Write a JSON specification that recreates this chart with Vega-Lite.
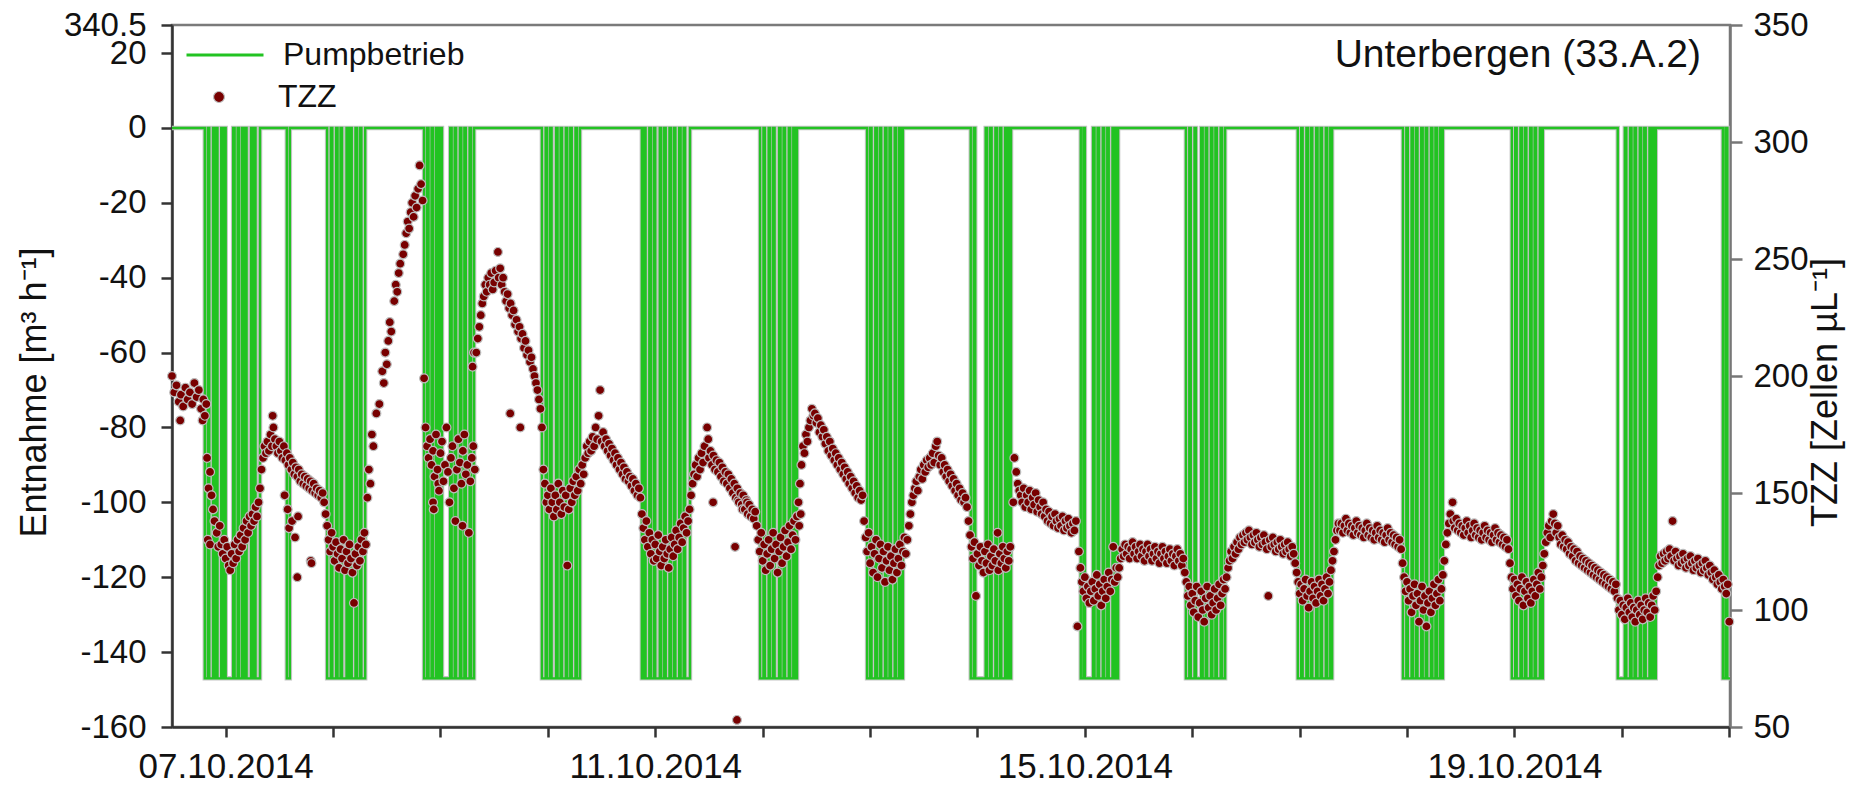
{
"$schema": "https://vega.github.io/schema/vega-lite/v6.json",
"width": 1558, "height": 702,
"autosize": {"type": "none"},
"padding": {"left": 172, "top": 25, "right": 138, "bottom": 60},
"background": "white",
"config": {"font": "Liberation Sans", "view": {"stroke": "#7a7a7a", "strokeWidth": 2.5}, "axis": {"grid": false, "labelColor": "#111", "titleColor": "#111", "labelFontSize": 33, "titleFontSize": 36, "titleFontWeight": "normal"}},
"title": {"text": "Unterbergen (33.A.2)", "orient": "top", "anchor": "end", "frame": "group", "offset": -42, "dx": -29, "dy": 55, "fontSize": 39, "fontWeight": "normal", "color": "#111", "baseline": "alphabetic"},
"datasets": {
"pump": [
{"t":"2014-10-06T12:00","p":0},
{"t":"2014-10-06T19:20","p":-147},{"t":"2014-10-06T20:00","p":0},{"t":"2014-10-06T20:20","p":-147},{"t":"2014-10-06T21:10","p":0},{"t":"2014-10-06T21:30","p":-147},{"t":"2014-10-06T21:50","p":0},{"t":"2014-10-06T22:10","p":-147},{"t":"2014-10-06T23:00","p":0},{"t":"2014-10-06T23:20","p":-147},{"t":"2014-10-06T23:40","p":0},{"t":"2014-10-07T00:00","p":-147},{"t":"2014-10-07T01:40","p":0},{"t":"2014-10-07T02:00","p":-147},{"t":"2014-10-07T02:40","p":0},{"t":"2014-10-07T03:00","p":-147},{"t":"2014-10-07T03:40","p":0},{"t":"2014-10-07T04:00","p":-147},{"t":"2014-10-07T04:20","p":0},{"t":"2014-10-07T04:40","p":-147},{"t":"2014-10-07T05:40","p":0},{"t":"2014-10-07T06:00","p":-147},{"t":"2014-10-07T06:20","p":0},{"t":"2014-10-07T06:40","p":-147},{"t":"2014-10-07T07:40","p":0},
{"t":"2014-10-07T13:40","p":-147},{"t":"2014-10-07T14:20","p":0},
{"t":"2014-10-07T22:40","p":-147},{"t":"2014-10-07T23:30","p":0},{"t":"2014-10-07T23:50","p":-147},{"t":"2014-10-08T00:40","p":0},{"t":"2014-10-08T01:00","p":-147},{"t":"2014-10-08T01:40","p":0},{"t":"2014-10-08T02:00","p":-147},{"t":"2014-10-08T03:00","p":0},{"t":"2014-10-08T03:20","p":-147},{"t":"2014-10-08T03:50","p":0},{"t":"2014-10-08T04:10","p":-147},{"t":"2014-10-08T05:00","p":0},{"t":"2014-10-08T05:20","p":-147},{"t":"2014-10-08T06:00","p":0},{"t":"2014-10-08T06:20","p":-147},{"t":"2014-10-08T07:10","p":0},
{"t":"2014-10-08T20:20","p":-147},{"t":"2014-10-08T21:00","p":0},{"t":"2014-10-08T21:20","p":-147},{"t":"2014-10-08T22:00","p":0},{"t":"2014-10-08T22:20","p":-147},{"t":"2014-10-08T23:00","p":0},{"t":"2014-10-08T23:20","p":-147},{"t":"2014-10-08T23:50","p":0},{"t":"2014-10-09T00:20","p":-147},{"t":"2014-10-09T02:10","p":0},{"t":"2014-10-09T02:30","p":-147},{"t":"2014-10-09T03:10","p":0},{"t":"2014-10-09T03:30","p":-147},{"t":"2014-10-09T04:20","p":0},{"t":"2014-10-09T04:40","p":-147},{"t":"2014-10-09T05:20","p":0},{"t":"2014-10-09T05:40","p":-147},{"t":"2014-10-09T06:30","p":0},{"t":"2014-10-09T06:50","p":-147},{"t":"2014-10-09T07:30","p":0},
{"t":"2014-10-09T22:40","p":-147},{"t":"2014-10-09T23:30","p":0},{"t":"2014-10-09T23:50","p":-147},{"t":"2014-10-10T00:30","p":0},{"t":"2014-10-10T00:50","p":-147},{"t":"2014-10-10T01:50","p":0},{"t":"2014-10-10T02:10","p":-147},{"t":"2014-10-10T02:50","p":0},{"t":"2014-10-10T03:10","p":-147},{"t":"2014-10-10T04:00","p":0},{"t":"2014-10-10T04:20","p":-147},{"t":"2014-10-10T05:00","p":0},{"t":"2014-10-10T05:20","p":-147},{"t":"2014-10-10T06:10","p":0},{"t":"2014-10-10T06:30","p":-147},{"t":"2014-10-10T07:10","p":0},
{"t":"2014-10-10T21:00","p":-147},{"t":"2014-10-10T21:30","p":0},{"t":"2014-10-10T21:50","p":-147},{"t":"2014-10-10T22:40","p":0},{"t":"2014-10-10T23:00","p":-147},{"t":"2014-10-10T23:40","p":0},{"t":"2014-10-11T00:00","p":-147},{"t":"2014-10-11T01:00","p":0},{"t":"2014-10-11T01:20","p":-147},{"t":"2014-10-11T02:00","p":0},{"t":"2014-10-11T02:20","p":-147},{"t":"2014-10-11T03:10","p":0},{"t":"2014-10-11T03:30","p":-147},{"t":"2014-10-11T04:10","p":0},{"t":"2014-10-11T04:30","p":-147},{"t":"2014-10-11T05:20","p":0},{"t":"2014-10-11T05:40","p":-147},{"t":"2014-10-11T06:20","p":0},{"t":"2014-10-11T06:40","p":-147},{"t":"2014-10-11T07:45","p":0},
{"t":"2014-10-11T23:25","p":-147},{"t":"2014-10-12T00:10","p":0},{"t":"2014-10-12T00:30","p":-147},{"t":"2014-10-12T01:20","p":0},{"t":"2014-10-12T01:40","p":-147},{"t":"2014-10-12T02:20","p":0},{"t":"2014-10-12T02:40","p":-147},{"t":"2014-10-12T03:40","p":0},{"t":"2014-10-12T04:00","p":-147},{"t":"2014-10-12T04:40","p":0},{"t":"2014-10-12T05:00","p":-147},{"t":"2014-10-12T05:50","p":0},{"t":"2014-10-12T06:10","p":-147},{"t":"2014-10-12T06:50","p":0},{"t":"2014-10-12T07:10","p":-147},{"t":"2014-10-12T07:40","p":0},
{"t":"2014-10-12T23:20","p":-147},{"t":"2014-10-13T00:00","p":0},{"t":"2014-10-13T00:20","p":-147},{"t":"2014-10-13T01:10","p":0},{"t":"2014-10-13T01:30","p":-147},{"t":"2014-10-13T02:10","p":0},{"t":"2014-10-13T02:30","p":-147},{"t":"2014-10-13T03:20","p":0},{"t":"2014-10-13T03:40","p":-147},{"t":"2014-10-13T04:20","p":0},{"t":"2014-10-13T04:40","p":-147},{"t":"2014-10-13T05:30","p":0},{"t":"2014-10-13T05:50","p":-147},{"t":"2014-10-13T06:30","p":0},{"t":"2014-10-13T06:50","p":-147},{"t":"2014-10-13T07:20","p":0},
{"t":"2014-10-13T22:30","p":-147},{"t":"2014-10-13T23:10","p":0},{"t":"2014-10-13T23:30","p":-147},{"t":"2014-10-14T01:50","p":0},{"t":"2014-10-14T02:10","p":-147},{"t":"2014-10-14T02:50","p":0},{"t":"2014-10-14T03:10","p":-147},{"t":"2014-10-14T04:00","p":0},{"t":"2014-10-14T04:20","p":-147},{"t":"2014-10-14T05:00","p":0},{"t":"2014-10-14T05:20","p":-147},{"t":"2014-10-14T06:10","p":0},{"t":"2014-10-14T06:30","p":-147},{"t":"2014-10-14T07:00","p":0},{"t":"2014-10-14T07:10","p":-147},{"t":"2014-10-14T07:30","p":0},
{"t":"2014-10-14T23:05","p":-147},{"t":"2014-10-14T23:40","p":0},{"t":"2014-10-15T00:00","p":-147},{"t":"2014-10-15T01:50","p":0},{"t":"2014-10-15T02:10","p":-147},{"t":"2014-10-15T02:50","p":0},{"t":"2014-10-15T03:10","p":-147},{"t":"2014-10-15T04:00","p":0},{"t":"2014-10-15T04:20","p":-147},{"t":"2014-10-15T05:00","p":0},{"t":"2014-10-15T05:20","p":-147},{"t":"2014-10-15T06:10","p":0},{"t":"2014-10-15T06:30","p":-147},{"t":"2014-10-15T07:00","p":0},{"t":"2014-10-15T07:10","p":-147},{"t":"2014-10-15T07:25","p":0},
{"t":"2014-10-15T22:35","p":-147},{"t":"2014-10-15T23:20","p":0},{"t":"2014-10-15T23:40","p":-147},{"t":"2014-10-16T00:30","p":0},{"t":"2014-10-16T00:50","p":-147},{"t":"2014-10-16T02:00","p":0},{"t":"2014-10-16T02:20","p":-147},{"t":"2014-10-16T03:00","p":0},{"t":"2014-10-16T03:20","p":-147},{"t":"2014-10-16T04:10","p":0},{"t":"2014-10-16T04:30","p":-147},{"t":"2014-10-16T05:10","p":0},{"t":"2014-10-16T05:30","p":-147},{"t":"2014-10-16T06:20","p":0},{"t":"2014-10-16T06:40","p":-147},{"t":"2014-10-16T07:20","p":0},
{"t":"2014-10-16T23:35","p":-147},{"t":"2014-10-17T00:20","p":0},{"t":"2014-10-17T00:40","p":-147},{"t":"2014-10-17T01:30","p":0},{"t":"2014-10-17T01:50","p":-147},{"t":"2014-10-17T02:30","p":0},{"t":"2014-10-17T02:50","p":-147},{"t":"2014-10-17T03:40","p":0},{"t":"2014-10-17T04:00","p":-147},{"t":"2014-10-17T04:40","p":0},{"t":"2014-10-17T05:00","p":-147},{"t":"2014-10-17T05:50","p":0},{"t":"2014-10-17T06:10","p":-147},{"t":"2014-10-17T06:50","p":0},{"t":"2014-10-17T07:00","p":-147},{"t":"2014-10-17T07:15","p":0},
{"t":"2014-10-17T23:05","p":-147},{"t":"2014-10-17T23:50","p":0},{"t":"2014-10-18T00:10","p":-147},{"t":"2014-10-18T01:00","p":0},{"t":"2014-10-18T01:20","p":-147},{"t":"2014-10-18T02:00","p":0},{"t":"2014-10-18T02:20","p":-147},{"t":"2014-10-18T03:10","p":0},{"t":"2014-10-18T03:30","p":-147},{"t":"2014-10-18T04:10","p":0},{"t":"2014-10-18T04:30","p":-147},{"t":"2014-10-18T05:20","p":0},{"t":"2014-10-18T05:40","p":-147},{"t":"2014-10-18T06:20","p":0},{"t":"2014-10-18T06:40","p":-147},{"t":"2014-10-18T07:20","p":0},{"t":"2014-10-18T07:40","p":-147},{"t":"2014-10-18T08:00","p":0},
{"t":"2014-10-18T23:25","p":-147},{"t":"2014-10-19T00:10","p":0},{"t":"2014-10-19T00:30","p":-147},{"t":"2014-10-19T01:20","p":0},{"t":"2014-10-19T01:40","p":-147},{"t":"2014-10-19T02:20","p":0},{"t":"2014-10-19T02:40","p":-147},{"t":"2014-10-19T03:30","p":0},{"t":"2014-10-19T03:50","p":-147},{"t":"2014-10-19T04:30","p":0},{"t":"2014-10-19T04:50","p":-147},{"t":"2014-10-19T05:40","p":0},{"t":"2014-10-19T06:00","p":-147},{"t":"2014-10-19T06:20","p":0},
{"t":"2014-10-19T23:05","p":-147},{"t":"2014-10-20T00:40","p":0},{"t":"2014-10-20T01:00","p":-147},{"t":"2014-10-20T01:50","p":0},{"t":"2014-10-20T02:10","p":-147},{"t":"2014-10-20T02:50","p":0},{"t":"2014-10-20T03:10","p":-147},{"t":"2014-10-20T04:00","p":0},{"t":"2014-10-20T04:20","p":-147},{"t":"2014-10-20T05:00","p":0},{"t":"2014-10-20T05:20","p":-147},{"t":"2014-10-20T06:10","p":0},{"t":"2014-10-20T06:30","p":-147},{"t":"2014-10-20T07:00","p":0},{"t":"2014-10-20T07:15","p":-147},{"t":"2014-10-20T07:35","p":0},
{"t":"2014-10-20T22:35","p":-147},{"t":"2014-10-20T23:10","p":0},{"t":"2014-10-20T23:35","p":-147},{"t":"2014-10-21T00:10","p":-147}
],
"tzz": [
{"t":"2014-10-06T12:00","z":200},{"t":"2014-10-06T12:30","z":193},{"t":"2014-10-06T13:00","z":196},{"t":"2014-10-06T13:30","z":189},{"t":"2014-10-06T13:50","z":181},{"t":"2014-10-06T14:00","z":192},{"t":"2014-10-06T14:30","z":187},{"t":"2014-10-06T15:00","z":195},{"t":"2014-10-06T15:30","z":190},{"t":"2014-10-06T16:00","z":193},{"t":"2014-10-06T16:30","z":188},{"t":"2014-10-06T17:00","z":197},{"t":"2014-10-06T17:30","z":191},{"t":"2014-10-06T18:00","z":194},{"t":"2014-10-06T18:30","z":186},{"t":"2014-10-06T18:50","z":181},{"t":"2014-10-06T19:00","z":190},{"t":"2014-10-06T19:20","z":183},{"t":"2014-10-06T19:40","z":188},{"t":"2014-10-06T19:50","z":165},{"t":"2014-10-06T20:00","z":130},{"t":"2014-10-06T20:10","z":152},{"t":"2014-10-06T20:30","z":159},{"t":"2014-10-06T20:30","z":128},{"t":"2014-10-06T20:50","z":149},{"t":"2014-10-06T21:10","z":143},{"t":"2014-10-06T21:30","z":138},{"t":"2014-10-06T22:00","z":133},{"t":"2014-10-06T22:20","z":127},{"t":"2014-10-06T22:40","z":136},{"t":"2014-10-06T23:00","z":128},{"t":"2014-10-06T23:20","z":124},{"t":"2014-10-06T23:40","z":130},
{"t":"2014-10-07T00:00","z":122},{"t":"2014-10-07T00:20","z":127},{"t":"2014-10-07T00:40","z":119},{"t":"2014-10-07T01:00","z":117},{"t":"2014-10-07T01:20","z":124},{"t":"2014-10-07T01:40","z":120},{"t":"2014-10-07T02:00","z":128},{"t":"2014-10-07T02:20","z":122},{"t":"2014-10-07T02:40","z":130},{"t":"2014-10-07T03:00","z":125},{"t":"2014-10-07T03:20","z":132},{"t":"2014-10-07T03:40","z":127},{"t":"2014-10-07T04:00","z":135},{"t":"2014-10-07T04:20","z":130},{"t":"2014-10-07T04:40","z":138},{"t":"2014-10-07T05:00","z":133},{"t":"2014-10-07T05:20","z":140},{"t":"2014-10-07T05:40","z":136},{"t":"2014-10-07T06:00","z":141},{"t":"2014-10-07T06:20","z":138},{"t":"2014-10-07T06:40","z":144},{"t":"2014-10-07T07:00","z":140},{"t":"2014-10-07T07:20","z":146},{"t":"2014-10-07T07:40","z":152},{"t":"2014-10-07T08:00","z":160},{"t":"2014-10-07T08:20","z":165},{"t":"2014-10-07T08:40","z":170},{"t":"2014-10-07T09:00","z":167},{"t":"2014-10-07T09:20","z":172},{"t":"2014-10-07T09:40","z":168},{"t":"2014-10-07T10:00","z":175},{"t":"2014-10-07T10:20","z":170},{"t":"2014-10-07T10:30","z":183},{"t":"2014-10-07T10:40","z":178},{"t":"2014-10-07T11:00","z":173},{"t":"2014-10-07T11:20","z":170},{"t":"2014-10-07T11:40","z":167},{"t":"2014-10-07T12:00","z":172},{"t":"2014-10-07T12:20","z":168},{"t":"2014-10-07T12:40","z":165},{"t":"2014-10-07T13:00","z":170},{"t":"2014-10-07T13:10","z":149},{"t":"2014-10-07T13:20","z":164},{"t":"2014-10-07T13:40","z":167},{"t":"2014-10-07T13:50","z":143},{"t":"2014-10-07T14:00","z":162},{"t":"2014-10-07T14:10","z":135},{"t":"2014-10-07T14:20","z":165},{"t":"2014-10-07T14:40","z":160},{"t":"2014-10-07T14:50","z":138},{"t":"2014-10-07T15:00","z":163},{"t":"2014-10-07T15:20","z":158},{"t":"2014-10-07T15:30","z":131},{"t":"2014-10-07T15:40","z":161},{"t":"2014-10-07T16:00","z":157},{"t":"2014-10-07T16:00","z":114},{"t":"2014-10-07T16:10","z":140},{"t":"2014-10-07T16:20","z":160},{"t":"2014-10-07T16:40","z":155},{"t":"2014-10-07T17:00","z":158},{"t":"2014-10-07T17:20","z":154},{"t":"2014-10-07T17:40","z":157},{"t":"2014-10-07T18:00","z":153},{"t":"2014-10-07T18:20","z":156},{"t":"2014-10-07T18:40","z":152},{"t":"2014-10-07T19:00","z":155},{"t":"2014-10-07T19:00","z":121},{"t":"2014-10-07T19:10","z":120},{"t":"2014-10-07T19:20","z":151},{"t":"2014-10-07T19:40","z":154},{"t":"2014-10-07T20:00","z":150},{"t":"2014-10-07T20:20","z":152},{"t":"2014-10-07T20:40","z":149},{"t":"2014-10-07T21:00","z":151},{"t":"2014-10-07T21:20","z":148},{"t":"2014-10-07T21:40","z":150},{"t":"2014-10-07T22:00","z":146},{"t":"2014-10-07T22:20","z":141},{"t":"2014-10-07T22:40","z":136},{"t":"2014-10-07T23:00","z":130},{"t":"2014-10-07T23:20","z":125},{"t":"2014-10-07T23:40","z":133},
{"t":"2014-10-08T00:00","z":127},{"t":"2014-10-08T00:20","z":121},{"t":"2014-10-08T00:40","z":129},{"t":"2014-10-08T01:00","z":124},{"t":"2014-10-08T01:20","z":118},{"t":"2014-10-08T01:40","z":126},{"t":"2014-10-08T02:00","z":122},{"t":"2014-10-08T02:20","z":130},{"t":"2014-10-08T02:40","z":117},{"t":"2014-10-08T03:00","z":125},{"t":"2014-10-08T03:20","z":120},{"t":"2014-10-08T03:40","z":128},{"t":"2014-10-08T04:00","z":122},{"t":"2014-10-08T04:20","z":116},{"t":"2014-10-08T04:40","z":103},{"t":"2014-10-08T05:00","z":124},{"t":"2014-10-08T05:20","z":119},{"t":"2014-10-08T05:40","z":127},{"t":"2014-10-08T06:00","z":121},{"t":"2014-10-08T06:20","z":130},{"t":"2014-10-08T06:40","z":125},{"t":"2014-10-08T07:00","z":133},{"t":"2014-10-08T07:20","z":128},{"t":"2014-10-08T07:40","z":148},{"t":"2014-10-08T08:00","z":160},{"t":"2014-10-08T08:20","z":154},{"t":"2014-10-08T08:40","z":175},{"t":"2014-10-08T09:00","z":170},{"t":"2014-10-08T09:40","z":184},{"t":"2014-10-08T10:20","z":188},{"t":"2014-10-08T11:00","z":202},{"t":"2014-10-08T11:20","z":197},{"t":"2014-10-08T11:40","z":210},{"t":"2014-10-08T12:00","z":205},{"t":"2014-10-08T12:20","z":215},{"t":"2014-10-08T12:40","z":223},{"t":"2014-10-08T13:00","z":219},{"t":"2014-10-08T13:40","z":232},{"t":"2014-10-08T14:00","z":239},{"t":"2014-10-08T14:20","z":236},{"t":"2014-10-08T14:40","z":244},{"t":"2014-10-08T15:00","z":248},{"t":"2014-10-08T15:40","z":252},{"t":"2014-10-08T16:00","z":256},{"t":"2014-10-08T16:20","z":261},{"t":"2014-10-08T16:40","z":266},{"t":"2014-10-08T17:00","z":263},{"t":"2014-10-08T17:20","z":270},{"t":"2014-10-08T17:40","z":274},{"t":"2014-10-08T18:00","z":268},{"t":"2014-10-08T18:20","z":277},{"t":"2014-10-08T18:40","z":272},{"t":"2014-10-08T19:00","z":280},{"t":"2014-10-08T19:20","z":290},{"t":"2014-10-08T19:40","z":282},{"t":"2014-10-08T20:00","z":275},{"t":"2014-10-08T20:20","z":199},{"t":"2014-10-08T20:40","z":178},{"t":"2014-10-08T21:00","z":170},{"t":"2014-10-08T21:20","z":165},{"t":"2014-10-08T21:40","z":173},{"t":"2014-10-08T22:00","z":162},{"t":"2014-10-08T22:20","z":168},{"t":"2014-10-08T22:20","z":146},{"t":"2014-10-08T22:30","z":143},{"t":"2014-10-08T22:40","z":157},{"t":"2014-10-08T23:00","z":175},{"t":"2014-10-08T23:20","z":160},{"t":"2014-10-08T23:30","z":154},{"t":"2014-10-08T23:40","z":151},
{"t":"2014-10-09T00:00","z":167},{"t":"2014-10-09T00:20","z":172},{"t":"2014-10-09T00:40","z":155},{"t":"2014-10-09T01:00","z":162},{"t":"2014-10-09T01:20","z":178},{"t":"2014-10-09T01:40","z":159},{"t":"2014-10-09T02:00","z":146},{"t":"2014-10-09T02:20","z":165},{"t":"2014-10-09T02:40","z":170},{"t":"2014-10-09T03:00","z":152},{"t":"2014-10-09T03:20","z":138},{"t":"2014-10-09T03:40","z":160},{"t":"2014-10-09T04:00","z":173},{"t":"2014-10-09T04:20","z":163},{"t":"2014-10-09T04:40","z":154},{"t":"2014-10-09T04:55","z":136},{"t":"2014-10-09T05:00","z":168},{"t":"2014-10-09T05:20","z":175},{"t":"2014-10-09T05:40","z":158},{"t":"2014-10-09T06:00","z":162},{"t":"2014-10-09T06:20","z":133},{"t":"2014-10-09T06:40","z":155},{"t":"2014-10-09T07:00","z":165},{"t":"2014-10-09T07:10","z":204},{"t":"2014-10-09T07:20","z":170},{"t":"2014-10-09T07:30","z":210},{"t":"2014-10-09T07:40","z":160},{"t":"2014-10-09T08:00","z":210},{"t":"2014-10-09T08:20","z":216},{"t":"2014-10-09T08:40","z":221},{"t":"2014-10-09T09:00","z":226},{"t":"2014-10-09T09:20","z":231},{"t":"2014-10-09T09:40","z":234},{"t":"2014-10-09T10:00","z":239},{"t":"2014-10-09T10:20","z":236},{"t":"2014-10-09T10:40","z":242},{"t":"2014-10-09T11:00","z":239},{"t":"2014-10-09T11:20","z":244},{"t":"2014-10-09T11:40","z":237},{"t":"2014-10-09T12:00","z":240},{"t":"2014-10-09T12:20","z":245},{"t":"2014-10-09T12:50","z":253},{"t":"2014-10-09T13:00","z":242},{"t":"2014-10-09T13:20","z":246},{"t":"2014-10-09T13:40","z":239},{"t":"2014-10-09T14:00","z":242},{"t":"2014-10-09T14:20","z":236},{"t":"2014-10-09T14:40","z":232},{"t":"2014-10-09T15:00","z":235},{"t":"2014-10-09T15:20","z":229},{"t":"2014-10-09T15:35","z":184},{"t":"2014-10-09T15:40","z":231},{"t":"2014-10-09T16:00","z":226},{"t":"2014-10-09T16:20","z":228},{"t":"2014-10-09T16:40","z":222},{"t":"2014-10-09T17:00","z":224},{"t":"2014-10-09T17:20","z":219},{"t":"2014-10-09T17:40","z":221},{"t":"2014-10-09T17:50","z":178},{"t":"2014-10-09T18:00","z":216},{"t":"2014-10-09T18:20","z":218},{"t":"2014-10-09T18:40","z":212},{"t":"2014-10-09T19:00","z":215},{"t":"2014-10-09T19:20","z":209},{"t":"2014-10-09T19:40","z":211},{"t":"2014-10-09T20:00","z":206},{"t":"2014-10-09T20:20","z":208},{"t":"2014-10-09T20:40","z":203},{"t":"2014-10-09T21:00","z":200},{"t":"2014-10-09T21:20","z":197},{"t":"2014-10-09T21:40","z":194},{"t":"2014-10-09T22:00","z":190},{"t":"2014-10-09T22:20","z":186},{"t":"2014-10-09T22:40","z":178},{"t":"2014-10-09T23:00","z":160},{"t":"2014-10-09T23:20","z":154},{"t":"2014-10-09T23:40","z":146},
{"t":"2014-10-10T00:00","z":149},{"t":"2014-10-10T00:20","z":143},{"t":"2014-10-10T00:40","z":152},{"t":"2014-10-10T01:00","z":146},{"t":"2014-10-10T01:20","z":140},{"t":"2014-10-10T01:40","z":149},{"t":"2014-10-10T02:00","z":143},{"t":"2014-10-10T02:20","z":154},{"t":"2014-10-10T02:40","z":146},{"t":"2014-10-10T03:00","z":141},{"t":"2014-10-10T03:20","z":151},{"t":"2014-10-10T03:40","z":144},{"t":"2014-10-10T04:00","z":149},{"t":"2014-10-10T04:20","z":119},{"t":"2014-10-10T04:40","z":143},{"t":"2014-10-10T05:00","z":152},{"t":"2014-10-10T05:20","z":146},{"t":"2014-10-10T05:40","z":155},{"t":"2014-10-10T06:00","z":149},{"t":"2014-10-10T06:20","z":157},{"t":"2014-10-10T06:40","z":151},{"t":"2014-10-10T07:00","z":160},{"t":"2014-10-10T07:20","z":154},{"t":"2014-10-10T07:40","z":162},{"t":"2014-10-10T08:00","z":158},{"t":"2014-10-10T08:20","z":165},{"t":"2014-10-10T08:40","z":170},{"t":"2014-10-10T09:00","z":167},{"t":"2014-10-10T09:20","z":172},{"t":"2014-10-10T09:40","z":168},{"t":"2014-10-10T10:00","z":174},{"t":"2014-10-10T10:20","z":170},{"t":"2014-10-10T10:40","z":178},{"t":"2014-10-10T11:00","z":173},{"t":"2014-10-10T11:20","z":183},{"t":"2014-10-10T11:40","z":194},{"t":"2014-10-10T12:00","z":172},{"t":"2014-10-10T12:20","z":176},{"t":"2014-10-10T12:40","z":170},{"t":"2014-10-10T13:00","z":173},{"t":"2014-10-10T13:20","z":168},{"t":"2014-10-10T13:40","z":171},{"t":"2014-10-10T14:00","z":166},{"t":"2014-10-10T14:20","z":169},{"t":"2014-10-10T14:40","z":164},{"t":"2014-10-10T15:00","z":167},{"t":"2014-10-10T15:20","z":162},{"t":"2014-10-10T15:40","z":165},{"t":"2014-10-10T16:00","z":160},{"t":"2014-10-10T16:20","z":163},{"t":"2014-10-10T16:40","z":158},{"t":"2014-10-10T17:00","z":161},{"t":"2014-10-10T17:20","z":156},{"t":"2014-10-10T17:40","z":159},{"t":"2014-10-10T18:00","z":155},{"t":"2014-10-10T18:20","z":157},{"t":"2014-10-10T18:40","z":153},{"t":"2014-10-10T19:00","z":156},{"t":"2014-10-10T19:20","z":151},{"t":"2014-10-10T19:40","z":154},{"t":"2014-10-10T20:00","z":149},{"t":"2014-10-10T20:20","z":152},{"t":"2014-10-10T20:40","z":148},{"t":"2014-10-10T21:00","z":141},{"t":"2014-10-10T21:20","z":135},{"t":"2014-10-10T21:40","z":130},{"t":"2014-10-10T22:00","z":138},{"t":"2014-10-10T22:20","z":127},{"t":"2014-10-10T22:40","z":133},{"t":"2014-10-10T23:00","z":124},{"t":"2014-10-10T23:20","z":130},{"t":"2014-10-10T23:40","z":121},
{"t":"2014-10-11T00:00","z":128},{"t":"2014-10-11T00:20","z":122},{"t":"2014-10-11T00:40","z":132},{"t":"2014-10-11T01:00","z":125},{"t":"2014-10-11T01:20","z":119},{"t":"2014-10-11T01:40","z":127},{"t":"2014-10-11T02:00","z":122},{"t":"2014-10-11T02:20","z":130},{"t":"2014-10-11T02:40","z":124},{"t":"2014-10-11T03:00","z":118},{"t":"2014-10-11T03:20","z":126},{"t":"2014-10-11T03:40","z":131},{"t":"2014-10-11T04:00","z":123},{"t":"2014-10-11T04:20","z":128},{"t":"2014-10-11T04:40","z":134},{"t":"2014-10-11T05:00","z":126},{"t":"2014-10-11T05:20","z":131},{"t":"2014-10-11T05:40","z":137},{"t":"2014-10-11T06:00","z":129},{"t":"2014-10-11T06:20","z":135},{"t":"2014-10-11T06:40","z":140},{"t":"2014-10-11T07:00","z":133},{"t":"2014-10-11T07:20","z":138},{"t":"2014-10-11T07:40","z":143},{"t":"2014-10-11T08:00","z":149},{"t":"2014-10-11T08:20","z":154},{"t":"2014-10-11T08:40","z":158},{"t":"2014-10-11T09:00","z":162},{"t":"2014-10-11T09:20","z":157},{"t":"2014-10-11T09:40","z":165},{"t":"2014-10-11T10:00","z":160},{"t":"2014-10-11T10:20","z":167},{"t":"2014-10-11T10:40","z":163},{"t":"2014-10-11T11:00","z":170},{"t":"2014-10-11T11:35","z":178},{"t":"2014-10-11T11:50","z":173},{"t":"2014-10-11T12:00","z":165},{"t":"2014-10-11T12:20","z":168},{"t":"2014-10-11T12:40","z":162},{"t":"2014-10-11T12:55","z":146},{"t":"2014-10-11T13:00","z":166},{"t":"2014-10-11T13:20","z":160},{"t":"2014-10-11T13:40","z":164},{"t":"2014-10-11T14:00","z":159},{"t":"2014-10-11T14:20","z":163},{"t":"2014-10-11T14:40","z":157},{"t":"2014-10-11T15:00","z":161},{"t":"2014-10-11T15:20","z":155},{"t":"2014-10-11T15:40","z":159},{"t":"2014-10-11T16:00","z":154},{"t":"2014-10-11T16:20","z":158},{"t":"2014-10-11T16:40","z":152},{"t":"2014-10-11T17:00","z":156},{"t":"2014-10-11T17:20","z":150},{"t":"2014-10-11T17:40","z":154},{"t":"2014-10-11T17:50","z":127},{"t":"2014-10-11T18:00","z":148},{"t":"2014-10-11T18:15","z":53},{"t":"2014-10-11T18:20","z":152},{"t":"2014-10-11T18:30","z":147},{"t":"2014-10-11T18:40","z":146},{"t":"2014-10-11T19:00","z":150},{"t":"2014-10-11T19:20","z":145},{"t":"2014-10-11T19:30","z":143},{"t":"2014-10-11T19:40","z":149},{"t":"2014-10-11T20:00","z":143},{"t":"2014-10-11T20:20","z":147},{"t":"2014-10-11T20:30","z":146},{"t":"2014-10-11T20:40","z":141},{"t":"2014-10-11T21:00","z":145},{"t":"2014-10-11T21:20","z":140},{"t":"2014-10-11T21:40","z":143},{"t":"2014-10-11T22:00","z":139},{"t":"2014-10-11T22:20","z":142},{"t":"2014-10-11T22:40","z":136},{"t":"2014-10-11T23:00","z":130},{"t":"2014-10-11T23:20","z":125},{"t":"2014-10-11T23:40","z":133},
{"t":"2014-10-12T00:00","z":121},{"t":"2014-10-12T00:20","z":128},{"t":"2014-10-12T00:40","z":117},{"t":"2014-10-12T01:00","z":124},{"t":"2014-10-12T01:20","z":130},{"t":"2014-10-12T01:40","z":119},{"t":"2014-10-12T02:00","z":126},{"t":"2014-10-12T02:20","z":133},{"t":"2014-10-12T02:40","z":122},{"t":"2014-10-12T03:00","z":128},{"t":"2014-10-12T03:20","z":116},{"t":"2014-10-12T03:40","z":125},{"t":"2014-10-12T04:00","z":131},{"t":"2014-10-12T04:20","z":120},{"t":"2014-10-12T04:40","z":127},{"t":"2014-10-12T05:00","z":134},{"t":"2014-10-12T05:20","z":123},{"t":"2014-10-12T05:40","z":129},{"t":"2014-10-12T06:00","z":136},{"t":"2014-10-12T06:20","z":126},{"t":"2014-10-12T06:40","z":132},{"t":"2014-10-12T07:00","z":138},{"t":"2014-10-12T07:20","z":130},{"t":"2014-10-12T07:40","z":140},{"t":"2014-10-12T08:00","z":146},{"t":"2014-10-12T08:10","z":136},{"t":"2014-10-12T08:20","z":154},{"t":"2014-10-12T08:30","z":141},{"t":"2014-10-12T08:40","z":162},{"t":"2014-10-12T09:00","z":170},{"t":"2014-10-12T09:20","z":167},{"t":"2014-10-12T09:40","z":175},{"t":"2014-10-12T10:00","z":172},{"t":"2014-10-12T10:20","z":178},{"t":"2014-10-12T10:40","z":181},{"t":"2014-10-12T11:00","z":186},{"t":"2014-10-12T11:20","z":183},{"t":"2014-10-12T11:40","z":184},{"t":"2014-10-12T12:00","z":180},{"t":"2014-10-12T12:20","z":182},{"t":"2014-10-12T12:40","z":176},{"t":"2014-10-12T13:00","z":179},{"t":"2014-10-12T13:20","z":174},{"t":"2014-10-12T13:40","z":177},{"t":"2014-10-12T14:00","z":171},{"t":"2014-10-12T14:20","z":174},{"t":"2014-10-12T14:40","z":168},{"t":"2014-10-12T15:00","z":172},{"t":"2014-10-12T15:20","z":166},{"t":"2014-10-12T15:40","z":169},{"t":"2014-10-12T16:00","z":164},{"t":"2014-10-12T16:20","z":167},{"t":"2014-10-12T16:40","z":162},{"t":"2014-10-12T17:00","z":165},{"t":"2014-10-12T17:20","z":160},{"t":"2014-10-12T17:40","z":163},{"t":"2014-10-12T18:00","z":158},{"t":"2014-10-12T18:20","z":161},{"t":"2014-10-12T18:40","z":156},{"t":"2014-10-12T19:00","z":159},{"t":"2014-10-12T19:20","z":154},{"t":"2014-10-12T19:40","z":157},{"t":"2014-10-12T20:00","z":152},{"t":"2014-10-12T20:20","z":155},{"t":"2014-10-12T20:40","z":150},{"t":"2014-10-12T21:00","z":153},{"t":"2014-10-12T21:20","z":148},{"t":"2014-10-12T21:40","z":151},{"t":"2014-10-12T22:00","z":147},{"t":"2014-10-12T22:20","z":149},{"t":"2014-10-12T22:40","z":138},{"t":"2014-10-12T23:00","z":131},{"t":"2014-10-12T23:20","z":125},{"t":"2014-10-12T23:40","z":133},
{"t":"2014-10-13T00:00","z":120},{"t":"2014-10-13T00:20","z":127},{"t":"2014-10-13T00:40","z":116},{"t":"2014-10-13T01:00","z":124},{"t":"2014-10-13T01:20","z":130},{"t":"2014-10-13T01:40","z":114},{"t":"2014-10-13T02:00","z":122},{"t":"2014-10-13T02:20","z":128},{"t":"2014-10-13T02:40","z":118},{"t":"2014-10-13T03:00","z":125},{"t":"2014-10-13T03:20","z":112},{"t":"2014-10-13T03:40","z":121},{"t":"2014-10-13T04:00","z":127},{"t":"2014-10-13T04:20","z":117},{"t":"2014-10-13T04:40","z":123},{"t":"2014-10-13T05:00","z":113},{"t":"2014-10-13T05:20","z":120},{"t":"2014-10-13T05:40","z":126},{"t":"2014-10-13T06:00","z":116},{"t":"2014-10-13T06:20","z":122},{"t":"2014-10-13T06:40","z":128},{"t":"2014-10-13T07:00","z":119},{"t":"2014-10-13T07:20","z":125},{"t":"2014-10-13T07:40","z":131},{"t":"2014-10-13T08:00","z":124},{"t":"2014-10-13T08:20","z":130},{"t":"2014-10-13T08:40","z":136},{"t":"2014-10-13T09:00","z":141},{"t":"2014-10-13T09:20","z":146},{"t":"2014-10-13T09:40","z":149},{"t":"2014-10-13T10:00","z":152},{"t":"2014-10-13T10:20","z":155},{"t":"2014-10-13T10:40","z":151},{"t":"2014-10-13T11:00","z":157},{"t":"2014-10-13T11:20","z":160},{"t":"2014-10-13T11:40","z":156},{"t":"2014-10-13T12:00","z":162},{"t":"2014-10-13T12:20","z":159},{"t":"2014-10-13T12:40","z":164},{"t":"2014-10-13T13:00","z":161},{"t":"2014-10-13T13:20","z":165},{"t":"2014-10-13T13:40","z":162},{"t":"2014-10-13T14:00","z":167},{"t":"2014-10-13T14:20","z":163},{"t":"2014-10-13T14:40","z":170},{"t":"2014-10-13T15:00","z":172},{"t":"2014-10-13T15:20","z":166},{"t":"2014-10-13T15:40","z":162},{"t":"2014-10-13T16:00","z":165},{"t":"2014-10-13T16:20","z":159},{"t":"2014-10-13T16:40","z":162},{"t":"2014-10-13T17:00","z":157},{"t":"2014-10-13T17:20","z":160},{"t":"2014-10-13T17:40","z":155},{"t":"2014-10-13T18:00","z":158},{"t":"2014-10-13T18:20","z":153},{"t":"2014-10-13T18:40","z":156},{"t":"2014-10-13T19:00","z":151},{"t":"2014-10-13T19:20","z":154},{"t":"2014-10-13T19:40","z":149},{"t":"2014-10-13T20:00","z":152},{"t":"2014-10-13T20:20","z":147},{"t":"2014-10-13T20:40","z":150},{"t":"2014-10-13T21:00","z":146},{"t":"2014-10-13T21:20","z":148},{"t":"2014-10-13T21:40","z":144},{"t":"2014-10-13T22:00","z":138},{"t":"2014-10-13T22:20","z":132},{"t":"2014-10-13T22:40","z":127},{"t":"2014-10-13T23:00","z":122},{"t":"2014-10-13T23:20","z":129},{"t":"2014-10-13T23:40","z":106},
{"t":"2014-10-14T00:00","z":124},{"t":"2014-10-14T00:20","z":119},{"t":"2014-10-14T00:40","z":127},{"t":"2014-10-14T01:00","z":121},{"t":"2014-10-14T01:20","z":116},{"t":"2014-10-14T01:40","z":125},{"t":"2014-10-14T02:00","z":120},{"t":"2014-10-14T02:20","z":128},{"t":"2014-10-14T02:40","z":117},{"t":"2014-10-14T03:00","z":123},{"t":"2014-10-14T03:20","z":119},{"t":"2014-10-14T03:40","z":126},{"t":"2014-10-14T04:00","z":121},{"t":"2014-10-14T04:30","z":133},{"t":"2014-10-14T04:40","z":117},{"t":"2014-10-14T05:00","z":124},{"t":"2014-10-14T05:20","z":120},{"t":"2014-10-14T05:40","z":127},{"t":"2014-10-14T06:00","z":122},{"t":"2014-10-14T06:20","z":118},{"t":"2014-10-14T06:40","z":125},{"t":"2014-10-14T07:00","z":121},{"t":"2014-10-14T07:20","z":127},{"t":"2014-10-14T08:00","z":146},{"t":"2014-10-14T08:15","z":165},{"t":"2014-10-14T08:40","z":159},{"t":"2014-10-14T09:00","z":154},{"t":"2014-10-14T09:20","z":151},{"t":"2014-10-14T09:40","z":149},{"t":"2014-10-14T10:00","z":146},{"t":"2014-10-14T10:20","z":152},{"t":"2014-10-14T10:40","z":144},{"t":"2014-10-14T11:00","z":149},{"t":"2014-10-14T11:20","z":146},{"t":"2014-10-14T11:40","z":151},{"t":"2014-10-14T12:00","z":143},{"t":"2014-10-14T12:20","z":148},{"t":"2014-10-14T12:40","z":145},{"t":"2014-10-14T13:00","z":150},{"t":"2014-10-14T13:20","z":142},{"t":"2014-10-14T13:40","z":147},{"t":"2014-10-14T14:00","z":144},{"t":"2014-10-14T14:20","z":141},{"t":"2014-10-14T14:40","z":146},{"t":"2014-10-14T15:00","z":140},{"t":"2014-10-14T15:20","z":143},{"t":"2014-10-14T15:40","z":138},{"t":"2014-10-14T16:00","z":142},{"t":"2014-10-14T16:20","z":137},{"t":"2014-10-14T16:40","z":140},{"t":"2014-10-14T17:00","z":136},{"t":"2014-10-14T17:20","z":141},{"t":"2014-10-14T17:40","z":138},{"t":"2014-10-14T18:00","z":135},{"t":"2014-10-14T18:20","z":139},{"t":"2014-10-14T18:40","z":136},{"t":"2014-10-14T19:00","z":140},{"t":"2014-10-14T19:20","z":134},{"t":"2014-10-14T19:40","z":138},{"t":"2014-10-14T20:00","z":135},{"t":"2014-10-14T20:20","z":139},{"t":"2014-10-14T20:40","z":136},{"t":"2014-10-14T21:00","z":133},{"t":"2014-10-14T21:20","z":137},{"t":"2014-10-14T21:40","z":134},{"t":"2014-10-14T22:00","z":138},{"t":"2014-10-14T22:20","z":93},{"t":"2014-10-14T22:40","z":125},{"t":"2014-10-14T23:00","z":118},{"t":"2014-10-14T23:20","z":112},{"t":"2014-10-14T23:40","z":108},
{"t":"2014-10-15T00:00","z":114},{"t":"2014-10-15T00:20","z":105},{"t":"2014-10-15T00:40","z":110},{"t":"2014-10-15T01:00","z":103},{"t":"2014-10-15T01:20","z":108},{"t":"2014-10-15T01:40","z":112},{"t":"2014-10-15T02:00","z":104},{"t":"2014-10-15T02:20","z":109},{"t":"2014-10-15T02:40","z":115},{"t":"2014-10-15T03:00","z":106},{"t":"2014-10-15T03:20","z":111},{"t":"2014-10-15T03:40","z":102},{"t":"2014-10-15T04:00","z":108},{"t":"2014-10-15T04:20","z":113},{"t":"2014-10-15T04:40","z":105},{"t":"2014-10-15T05:00","z":110},{"t":"2014-10-15T05:20","z":116},{"t":"2014-10-15T05:40","z":108},{"t":"2014-10-15T06:00","z":113},{"t":"2014-10-15T06:20","z":127},{"t":"2014-10-15T06:40","z":112},{"t":"2014-10-15T07:00","z":118},{"t":"2014-10-15T07:20","z":114},{"t":"2014-10-15T07:40","z":118},{"t":"2014-10-15T08:00","z":122},{"t":"2014-10-15T08:20","z":126},{"t":"2014-10-15T08:40","z":123},{"t":"2014-10-15T09:00","z":128},{"t":"2014-10-15T09:20","z":124},{"t":"2014-10-15T09:40","z":127},{"t":"2014-10-15T10:00","z":122},{"t":"2014-10-15T10:20","z":126},{"t":"2014-10-15T10:40","z":129},{"t":"2014-10-15T11:00","z":124},{"t":"2014-10-15T11:20","z":127},{"t":"2014-10-15T11:40","z":122},{"t":"2014-10-15T12:00","z":125},{"t":"2014-10-15T12:20","z":128},{"t":"2014-10-15T12:40","z":123},{"t":"2014-10-15T13:00","z":126},{"t":"2014-10-15T13:20","z":121},{"t":"2014-10-15T13:40","z":125},{"t":"2014-10-15T14:00","z":128},{"t":"2014-10-15T14:20","z":123},{"t":"2014-10-15T14:40","z":126},{"t":"2014-10-15T15:00","z":121},{"t":"2014-10-15T15:20","z":124},{"t":"2014-10-15T15:40","z":127},{"t":"2014-10-15T16:00","z":122},{"t":"2014-10-15T16:20","z":125},{"t":"2014-10-15T16:40","z":120},{"t":"2014-10-15T17:00","z":124},{"t":"2014-10-15T17:20","z":127},{"t":"2014-10-15T17:40","z":122},{"t":"2014-10-15T18:00","z":125},{"t":"2014-10-15T18:20","z":120},{"t":"2014-10-15T18:40","z":123},{"t":"2014-10-15T19:00","z":126},{"t":"2014-10-15T19:20","z":121},{"t":"2014-10-15T19:40","z":124},{"t":"2014-10-15T20:00","z":119},{"t":"2014-10-15T20:20","z":123},{"t":"2014-10-15T20:40","z":126},{"t":"2014-10-15T21:00","z":121},{"t":"2014-10-15T21:20","z":124},{"t":"2014-10-15T21:40","z":119},{"t":"2014-10-15T22:00","z":122},{"t":"2014-10-15T22:20","z":116},{"t":"2014-10-15T22:40","z":112},{"t":"2014-10-15T23:00","z":106},{"t":"2014-10-15T23:20","z":110},{"t":"2014-10-15T23:40","z":102},
{"t":"2014-10-16T00:00","z":107},{"t":"2014-10-16T00:20","z":99},{"t":"2014-10-16T00:40","z":104},{"t":"2014-10-16T01:00","z":110},{"t":"2014-10-16T01:20","z":97},{"t":"2014-10-16T01:40","z":103},{"t":"2014-10-16T02:00","z":108},{"t":"2014-10-16T02:20","z":100},{"t":"2014-10-16T02:40","z":95},{"t":"2014-10-16T03:00","z":105},{"t":"2014-10-16T03:20","z":110},{"t":"2014-10-16T03:40","z":101},{"t":"2014-10-16T04:00","z":106},{"t":"2014-10-16T04:20","z":98},{"t":"2014-10-16T04:40","z":103},{"t":"2014-10-16T05:00","z":109},{"t":"2014-10-16T05:20","z":100},{"t":"2014-10-16T05:40","z":105},{"t":"2014-10-16T06:00","z":111},{"t":"2014-10-16T06:20","z":102},{"t":"2014-10-16T06:40","z":107},{"t":"2014-10-16T07:00","z":113},{"t":"2014-10-16T07:20","z":109},{"t":"2014-10-16T07:40","z":114},{"t":"2014-10-16T08:00","z":118},{"t":"2014-10-16T08:20","z":121},{"t":"2014-10-16T08:40","z":125},{"t":"2014-10-16T09:00","z":122},{"t":"2014-10-16T09:20","z":127},{"t":"2014-10-16T09:40","z":124},{"t":"2014-10-16T10:00","z":129},{"t":"2014-10-16T10:20","z":126},{"t":"2014-10-16T10:40","z":131},{"t":"2014-10-16T11:00","z":128},{"t":"2014-10-16T11:20","z":132},{"t":"2014-10-16T11:40","z":129},{"t":"2014-10-16T12:00","z":133},{"t":"2014-10-16T12:20","z":130},{"t":"2014-10-16T12:40","z":134},{"t":"2014-10-16T13:00","z":131},{"t":"2014-10-16T13:20","z":128},{"t":"2014-10-16T13:40","z":132},{"t":"2014-10-16T14:00","z":129},{"t":"2014-10-16T14:20","z":133},{"t":"2014-10-16T14:40","z":130},{"t":"2014-10-16T15:00","z":127},{"t":"2014-10-16T15:20","z":131},{"t":"2014-10-16T15:40","z":128},{"t":"2014-10-16T16:00","z":132},{"t":"2014-10-16T16:20","z":129},{"t":"2014-10-16T16:40","z":126},{"t":"2014-10-16T17:00","z":106},{"t":"2014-10-16T17:20","z":130},{"t":"2014-10-16T17:40","z":127},{"t":"2014-10-16T18:00","z":131},{"t":"2014-10-16T18:20","z":128},{"t":"2014-10-16T18:40","z":125},{"t":"2014-10-16T19:00","z":129},{"t":"2014-10-16T19:20","z":126},{"t":"2014-10-16T19:40","z":130},{"t":"2014-10-16T20:00","z":127},{"t":"2014-10-16T20:20","z":124},{"t":"2014-10-16T20:40","z":128},{"t":"2014-10-16T21:00","z":125},{"t":"2014-10-16T21:20","z":129},{"t":"2014-10-16T21:40","z":126},{"t":"2014-10-16T22:00","z":123},{"t":"2014-10-16T22:20","z":127},{"t":"2014-10-16T22:40","z":124},{"t":"2014-10-16T23:00","z":120},{"t":"2014-10-16T23:20","z":116},{"t":"2014-10-16T23:40","z":112},
{"t":"2014-10-17T00:00","z":107},{"t":"2014-10-17T00:20","z":111},{"t":"2014-10-17T00:40","z":104},{"t":"2014-10-17T01:00","z":109},{"t":"2014-10-17T01:20","z":113},{"t":"2014-10-17T01:40","z":106},{"t":"2014-10-17T02:00","z":101},{"t":"2014-10-17T02:20","z":108},{"t":"2014-10-17T02:40","z":112},{"t":"2014-10-17T03:00","z":105},{"t":"2014-10-17T03:20","z":110},{"t":"2014-10-17T03:40","z":103},{"t":"2014-10-17T04:00","z":108},{"t":"2014-10-17T04:20","z":113},{"t":"2014-10-17T04:40","z":106},{"t":"2014-10-17T05:00","z":111},{"t":"2014-10-17T05:20","z":104},{"t":"2014-10-17T05:40","z":109},{"t":"2014-10-17T06:00","z":114},{"t":"2014-10-17T06:20","z":107},{"t":"2014-10-17T06:40","z":112},{"t":"2014-10-17T07:00","z":117},{"t":"2014-10-17T07:20","z":121},{"t":"2014-10-17T07:40","z":125},{"t":"2014-10-17T08:00","z":130},{"t":"2014-10-17T08:20","z":134},{"t":"2014-10-17T08:40","z":137},{"t":"2014-10-17T09:00","z":134},{"t":"2014-10-17T09:20","z":137},{"t":"2014-10-17T09:40","z":133},{"t":"2014-10-17T10:00","z":136},{"t":"2014-10-17T10:20","z":139},{"t":"2014-10-17T10:40","z":134},{"t":"2014-10-17T11:00","z":137},{"t":"2014-10-17T11:20","z":133},{"t":"2014-10-17T11:40","z":136},{"t":"2014-10-17T12:00","z":132},{"t":"2014-10-17T12:20","z":135},{"t":"2014-10-17T12:40","z":138},{"t":"2014-10-17T13:00","z":133},{"t":"2014-10-17T13:20","z":136},{"t":"2014-10-17T13:40","z":132},{"t":"2014-10-17T14:00","z":135},{"t":"2014-10-17T14:20","z":131},{"t":"2014-10-17T14:40","z":134},{"t":"2014-10-17T15:00","z":137},{"t":"2014-10-17T15:20","z":132},{"t":"2014-10-17T15:40","z":135},{"t":"2014-10-17T16:00","z":131},{"t":"2014-10-17T16:20","z":134},{"t":"2014-10-17T16:40","z":130},{"t":"2014-10-17T17:00","z":133},{"t":"2014-10-17T17:20","z":136},{"t":"2014-10-17T17:40","z":131},{"t":"2014-10-17T18:00","z":134},{"t":"2014-10-17T18:20","z":130},{"t":"2014-10-17T18:40","z":133},{"t":"2014-10-17T19:00","z":129},{"t":"2014-10-17T19:20","z":132},{"t":"2014-10-17T19:40","z":135},{"t":"2014-10-17T20:00","z":130},{"t":"2014-10-17T20:20","z":133},{"t":"2014-10-17T20:40","z":129},{"t":"2014-10-17T21:00","z":132},{"t":"2014-10-17T21:20","z":128},{"t":"2014-10-17T21:40","z":131},{"t":"2014-10-17T22:00","z":127},{"t":"2014-10-17T22:20","z":130},{"t":"2014-10-17T22:40","z":126},{"t":"2014-10-17T23:00","z":120},{"t":"2014-10-17T23:20","z":114},{"t":"2014-10-17T23:40","z":108},
{"t":"2014-10-18T00:00","z":112},{"t":"2014-10-18T00:20","z":104},{"t":"2014-10-18T00:40","z":109},{"t":"2014-10-18T01:00","z":99},{"t":"2014-10-18T01:20","z":106},{"t":"2014-10-18T01:40","z":111},{"t":"2014-10-18T02:00","z":102},{"t":"2014-10-18T02:20","z":107},{"t":"2014-10-18T02:40","z":95},{"t":"2014-10-18T03:00","z":104},{"t":"2014-10-18T03:20","z":110},{"t":"2014-10-18T03:40","z":100},{"t":"2014-10-18T04:00","z":106},{"t":"2014-10-18T04:20","z":93},{"t":"2014-10-18T04:40","z":103},{"t":"2014-10-18T05:00","z":108},{"t":"2014-10-18T05:20","z":99},{"t":"2014-10-18T05:40","z":105},{"t":"2014-10-18T06:00","z":111},{"t":"2014-10-18T06:20","z":102},{"t":"2014-10-18T06:40","z":107},{"t":"2014-10-18T07:00","z":113},{"t":"2014-10-18T07:20","z":104},{"t":"2014-10-18T07:40","z":109},{"t":"2014-10-18T08:00","z":115},{"t":"2014-10-18T08:20","z":121},{"t":"2014-10-18T08:40","z":128},{"t":"2014-10-18T09:00","z":133},{"t":"2014-10-18T09:20","z":137},{"t":"2014-10-18T09:40","z":141},{"t":"2014-10-18T10:10","z":146},{"t":"2014-10-18T10:20","z":138},{"t":"2014-10-18T10:40","z":135},{"t":"2014-10-18T11:00","z":139},{"t":"2014-10-18T11:20","z":134},{"t":"2014-10-18T11:40","z":137},{"t":"2014-10-18T12:00","z":133},{"t":"2014-10-18T12:20","z":136},{"t":"2014-10-18T12:40","z":132},{"t":"2014-10-18T13:00","z":135},{"t":"2014-10-18T13:20","z":138},{"t":"2014-10-18T13:40","z":133},{"t":"2014-10-18T14:00","z":136},{"t":"2014-10-18T14:20","z":131},{"t":"2014-10-18T14:40","z":134},{"t":"2014-10-18T15:00","z":137},{"t":"2014-10-18T15:20","z":132},{"t":"2014-10-18T15:40","z":135},{"t":"2014-10-18T16:00","z":131},{"t":"2014-10-18T16:20","z":134},{"t":"2014-10-18T16:40","z":130},{"t":"2014-10-18T17:00","z":133},{"t":"2014-10-18T17:20","z":136},{"t":"2014-10-18T17:40","z":131},{"t":"2014-10-18T18:00","z":134},{"t":"2014-10-18T18:20","z":130},{"t":"2014-10-18T18:40","z":133},{"t":"2014-10-18T19:00","z":129},{"t":"2014-10-18T19:20","z":132},{"t":"2014-10-18T19:40","z":135},{"t":"2014-10-18T20:00","z":130},{"t":"2014-10-18T20:20","z":133},{"t":"2014-10-18T20:40","z":129},{"t":"2014-10-18T21:00","z":132},{"t":"2014-10-18T21:20","z":128},{"t":"2014-10-18T21:40","z":131},{"t":"2014-10-18T22:00","z":127},{"t":"2014-10-18T22:20","z":130},{"t":"2014-10-18T22:40","z":126},{"t":"2014-10-18T23:00","z":120},{"t":"2014-10-18T23:20","z":114},{"t":"2014-10-18T23:40","z":109},
{"t":"2014-10-19T00:00","z":113},{"t":"2014-10-19T00:20","z":106},{"t":"2014-10-19T00:40","z":111},{"t":"2014-10-19T01:00","z":104},{"t":"2014-10-19T01:20","z":109},{"t":"2014-10-19T01:40","z":114},{"t":"2014-10-19T02:00","z":102},{"t":"2014-10-19T02:20","z":108},{"t":"2014-10-19T02:40","z":112},{"t":"2014-10-19T03:00","z":105},{"t":"2014-10-19T03:20","z":110},{"t":"2014-10-19T03:40","z":103},{"t":"2014-10-19T04:00","z":108},{"t":"2014-10-19T04:20","z":113},{"t":"2014-10-19T04:40","z":106},{"t":"2014-10-19T05:00","z":111},{"t":"2014-10-19T05:20","z":116},{"t":"2014-10-19T05:40","z":109},{"t":"2014-10-19T06:00","z":114},{"t":"2014-10-19T06:20","z":119},{"t":"2014-10-19T06:40","z":124},{"t":"2014-10-19T07:00","z":129},{"t":"2014-10-19T07:20","z":133},{"t":"2014-10-19T07:40","z":136},{"t":"2014-10-19T08:00","z":131},{"t":"2014-10-19T08:20","z":138},{"t":"2014-10-19T08:40","z":141},{"t":"2014-10-19T09:00","z":137},{"t":"2014-10-19T09:20","z":133},{"t":"2014-10-19T09:40","z":136},{"t":"2014-10-19T10:00","z":131},{"t":"2014-10-19T10:20","z":128},{"t":"2014-10-19T10:40","z":132},{"t":"2014-10-19T11:00","z":127},{"t":"2014-10-19T11:20","z":130},{"t":"2014-10-19T11:40","z":126},{"t":"2014-10-19T12:00","z":129},{"t":"2014-10-19T12:20","z":124},{"t":"2014-10-19T12:40","z":127},{"t":"2014-10-19T13:00","z":123},{"t":"2014-10-19T13:20","z":126},{"t":"2014-10-19T13:40","z":121},{"t":"2014-10-19T14:00","z":125},{"t":"2014-10-19T14:20","z":120},{"t":"2014-10-19T14:40","z":123},{"t":"2014-10-19T15:00","z":119},{"t":"2014-10-19T15:20","z":122},{"t":"2014-10-19T15:40","z":118},{"t":"2014-10-19T16:00","z":121},{"t":"2014-10-19T16:20","z":117},{"t":"2014-10-19T16:40","z":120},{"t":"2014-10-19T17:00","z":116},{"t":"2014-10-19T17:20","z":119},{"t":"2014-10-19T17:40","z":115},{"t":"2014-10-19T18:00","z":118},{"t":"2014-10-19T18:20","z":114},{"t":"2014-10-19T18:40","z":117},{"t":"2014-10-19T19:00","z":113},{"t":"2014-10-19T19:20","z":116},{"t":"2014-10-19T19:40","z":112},{"t":"2014-10-19T20:00","z":115},{"t":"2014-10-19T20:20","z":111},{"t":"2014-10-19T20:40","z":114},{"t":"2014-10-19T21:00","z":110},{"t":"2014-10-19T21:20","z":113},{"t":"2014-10-19T21:40","z":109},{"t":"2014-10-19T22:00","z":112},{"t":"2014-10-19T22:20","z":108},{"t":"2014-10-19T22:40","z":111},{"t":"2014-10-19T23:00","z":105},{"t":"2014-10-19T23:20","z":100},{"t":"2014-10-19T23:40","z":104},
{"t":"2014-10-20T00:00","z":98},{"t":"2014-10-20T00:20","z":102},{"t":"2014-10-20T00:40","z":96},{"t":"2014-10-20T01:00","z":101},{"t":"2014-10-20T01:20","z":105},{"t":"2014-10-20T01:40","z":99},{"t":"2014-10-20T02:00","z":103},{"t":"2014-10-20T02:20","z":97},{"t":"2014-10-20T02:40","z":101},{"t":"2014-10-20T03:00","z":95},{"t":"2014-10-20T03:20","z":100},{"t":"2014-10-20T03:40","z":104},{"t":"2014-10-20T04:00","z":98},{"t":"2014-10-20T04:20","z":102},{"t":"2014-10-20T04:40","z":96},{"t":"2014-10-20T05:00","z":100},{"t":"2014-10-20T05:20","z":105},{"t":"2014-10-20T05:40","z":99},{"t":"2014-10-20T06:00","z":103},{"t":"2014-10-20T06:20","z":97},{"t":"2014-10-20T06:40","z":102},{"t":"2014-10-20T07:00","z":106},{"t":"2014-10-20T07:20","z":100},{"t":"2014-10-20T07:40","z":108},{"t":"2014-10-20T08:00","z":114},{"t":"2014-10-20T08:20","z":119},{"t":"2014-10-20T08:40","z":123},{"t":"2014-10-20T09:00","z":120},{"t":"2014-10-20T09:20","z":124},{"t":"2014-10-20T09:40","z":121},{"t":"2014-10-20T10:00","z":125},{"t":"2014-10-20T10:20","z":122},{"t":"2014-10-20T10:40","z":126},{"t":"2014-10-20T11:00","z":123},{"t":"2014-10-20T11:20","z":138},{"t":"2014-10-20T11:40","z":121},{"t":"2014-10-20T12:00","z":125},{"t":"2014-10-20T12:20","z":122},{"t":"2014-10-20T12:40","z":119},{"t":"2014-10-20T13:00","z":123},{"t":"2014-10-20T13:20","z":120},{"t":"2014-10-20T13:40","z":124},{"t":"2014-10-20T14:00","z":121},{"t":"2014-10-20T14:20","z":118},{"t":"2014-10-20T14:40","z":122},{"t":"2014-10-20T15:00","z":119},{"t":"2014-10-20T15:20","z":123},{"t":"2014-10-20T15:40","z":120},{"t":"2014-10-20T16:00","z":117},{"t":"2014-10-20T16:20","z":121},{"t":"2014-10-20T16:40","z":118},{"t":"2014-10-20T17:00","z":122},{"t":"2014-10-20T17:20","z":119},{"t":"2014-10-20T17:40","z":116},{"t":"2014-10-20T18:00","z":120},{"t":"2014-10-20T18:20","z":117},{"t":"2014-10-20T18:40","z":121},{"t":"2014-10-20T19:00","z":118},{"t":"2014-10-20T19:20","z":115},{"t":"2014-10-20T19:40","z":119},{"t":"2014-10-20T20:00","z":116},{"t":"2014-10-20T20:20","z":113},{"t":"2014-10-20T20:40","z":117},{"t":"2014-10-20T21:00","z":114},{"t":"2014-10-20T21:20","z":111},{"t":"2014-10-20T21:40","z":115},{"t":"2014-10-20T22:00","z":112},{"t":"2014-10-20T22:20","z":109},{"t":"2014-10-20T22:40","z":113},{"t":"2014-10-20T23:00","z":110},{"t":"2014-10-20T23:20","z":107},{"t":"2014-10-20T23:40","z":111},
{"t":"2014-10-21T00:00","z":95}
]
},
"layer": [
{"data": {"name": "pump"},
 "layer": [
  {"mark": {"type": "line", "interpolate": "step-after", "color": "#c4c4c4", "strokeWidth": 4.5},
   "encoding": {
    "x": {"field": "t", "type": "temporal", "scale": {"domain": [{"year": 2014, "month": 10, "date": 6, "hours": 12}, {"year": 2014, "month": 10, "date": 21, "hours": 0, "minutes": 10}], "nice": false},
      "axis": {"title": null, "values": [{"year":2014,"month":10,"date":7},{"year":2014,"month":10,"date":8},{"year":2014,"month":10,"date":9},{"year":2014,"month":10,"date":10},{"year":2014,"month":10,"date":11},{"year":2014,"month":10,"date":12},{"year":2014,"month":10,"date":13},{"year":2014,"month":10,"date":14},{"year":2014,"month":10,"date":15},{"year":2014,"month":10,"date":16},{"year":2014,"month":10,"date":17},{"year":2014,"month":10,"date":18},{"year":2014,"month":10,"date":19},{"year":2014,"month":10,"date":20},{"year":2014,"month":10,"date":21}],
        "labelExpr": "indexof([7,11,15,19], date(datum.value)) >= 0 ? timeFormat(datum.value, '%d.%m.%Y') : ''",
        "tickSize": 10, "tickWidth": 2.5, "tickColor": "#333", "domainColor": "#333", "domainWidth": 2.5, "labelPadding": 12, "labelFontSize": 35, "labelFlush": false, "labelOverlap": false}},
    "y": {"field": "p", "type": "quantitative", "scale": {"domain": [-160, 27.5], "nice": false, "zero": false},
      "axis": {"orient": "left", "title": "Entnahme [m³ h⁻¹]", "values": [-160, -140, -120, -100, -80, -60, -40, -20, 0, 20, 27.5], "labelExpr": "datum.value > 25 ? '340.5' : '' + datum.value", "tickSize": 11, "tickWidth": 2.5, "tickColor": "#333", "domainColor": "#333", "domainWidth": 2.5, "labelPadding": 15, "labelFlush": false, "labelOverlap": false, "labelBound": false, "titlePadding": 10, "titleY": 367}}
   }},
  {"mark": {"type": "line", "interpolate": "step-after", "strokeWidth": 2.4},
   "encoding": {
    "x": {"field": "t", "type": "temporal", "scale": {"domain": [{"year": 2014, "month": 10, "date": 6, "hours": 12}, {"year": 2014, "month": 10, "date": 21, "hours": 0, "minutes": 10}], "nice": false},
      "axis": {"title": null, "values": [{"year":2014,"month":10,"date":7},{"year":2014,"month":10,"date":8},{"year":2014,"month":10,"date":9},{"year":2014,"month":10,"date":10},{"year":2014,"month":10,"date":11},{"year":2014,"month":10,"date":12},{"year":2014,"month":10,"date":13},{"year":2014,"month":10,"date":14},{"year":2014,"month":10,"date":15},{"year":2014,"month":10,"date":16},{"year":2014,"month":10,"date":17},{"year":2014,"month":10,"date":18},{"year":2014,"month":10,"date":19},{"year":2014,"month":10,"date":20},{"year":2014,"month":10,"date":21}],
        "labelExpr": "indexof([7,11,15,19], date(datum.value)) >= 0 ? timeFormat(datum.value, '%d.%m.%Y') : ''",
        "tickSize": 10, "tickWidth": 2.5, "tickColor": "#333", "domainColor": "#333", "domainWidth": 2.5, "labelPadding": 12, "labelFontSize": 35, "labelFlush": false, "labelOverlap": false}},
    "y": {"field": "p", "type": "quantitative", "scale": {"domain": [-160, 27.5], "nice": false, "zero": false},
      "axis": {"orient": "left", "title": "Entnahme [m³ h⁻¹]", "values": [-160, -140, -120, -100, -80, -60, -40, -20, 0, 20, 27.5], "labelExpr": "datum.value > 25 ? '340.5' : '' + datum.value", "tickSize": 11, "tickWidth": 2.5, "tickColor": "#333", "domainColor": "#333", "domainWidth": 2.5, "labelPadding": 15, "labelFlush": false, "labelOverlap": false, "labelBound": false, "titlePadding": 10, "titleY": 367}},
    "stroke": {"datum": "Pumpbetrieb", "scale": {"range": ["#22c322"]},
      "legend": {"orient": "none", "legendX": 13, "legendY": -10, "title": null, "symbolType": "stroke", "symbolSize": 5929, "symbolStrokeWidth": 3, "labelFontSize": 32, "labelOffset": 18, "labelLimit": 400, "labelColor": "#111", "padding": 0}}
   }}
 ]},
{"data": {"name": "tzz"},
 "mark": {"type": "point", "filled": true, "size": 80, "stroke": "#bdbdbd", "strokeWidth": 1.2, "opacity": 1},
 "encoding": {
  "x": {"field": "t", "type": "temporal", "scale": {"domain": [{"year": 2014, "month": 10, "date": 6, "hours": 12}, {"year": 2014, "month": 10, "date": 21, "hours": 0, "minutes": 10}], "nice": false}},
  "y": {"field": "z", "type": "quantitative", "scale": {"domain": [50, 350], "nice": false, "zero": false},
    "axis": {"orient": "right", "title": "TZZ [Zellen µL⁻¹]", "values": [50, 100, 150, 200, 250, 300, 350], "tickSize": 12, "tickWidth": 2.5, "tickColor": "#777", "domainColor": "#777", "domainWidth": 2.5, "labelPadding": 11, "labelFlush": false, "labelOverlap": false, "titleAngle": -90, "titleBaseline": "top", "titlePadding": 0, "titleY": 367}},
  "fill": {"datum": "TZZ", "scale": {"range": ["#780000"]},
    "legend": {"orient": "none", "legendX": 31, "legendY": 56, "title": null, "symbolType": "circle", "symbolSize": 120, "symbolStrokeColor": "#bdbdbd", "symbolStrokeWidth": 1.2, "labelFontSize": 32, "labelOffset": 43, "labelLimit": 400, "labelColor": "#111", "padding": 0}}
 }}
],
"resolve": {"scale": {"y": "independent"}}
}
